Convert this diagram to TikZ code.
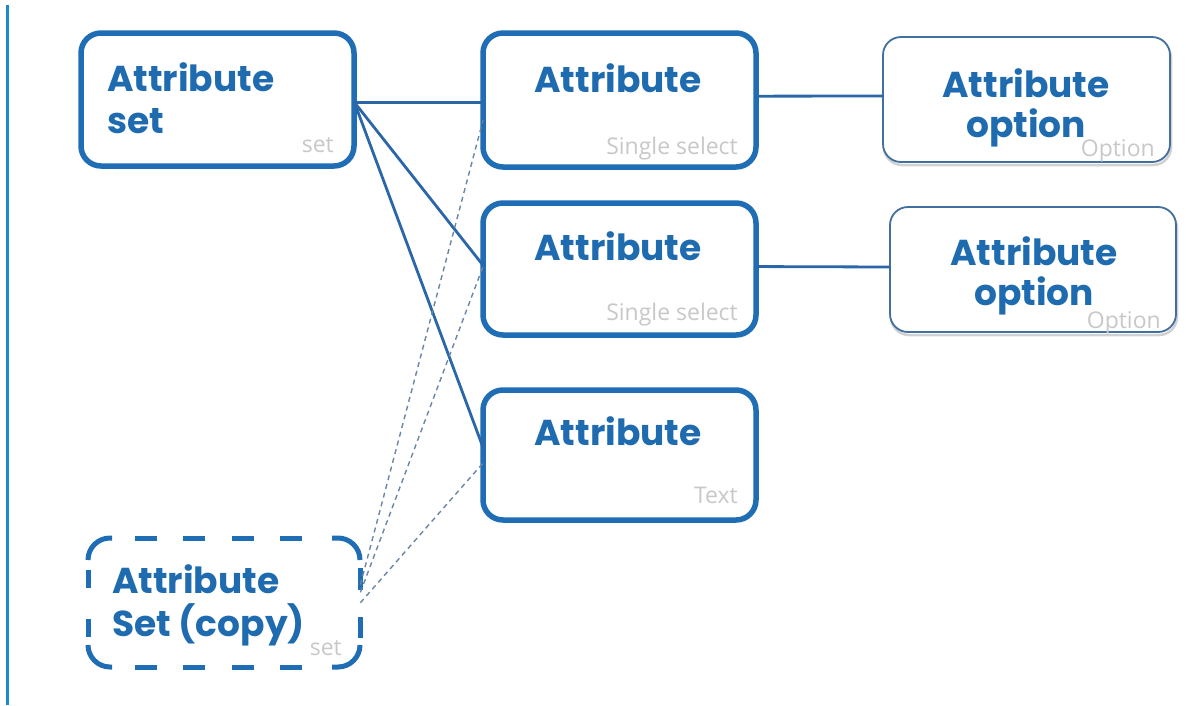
\documentclass[tikz,border=0pt]{standalone}
\usepackage{fontspec}
\usetikzlibrary{calc}
\newfontfamily\headfont{Poppins}[UprightFont=* SemiBold, BoldFont=* Bold]
\newfontfamily\tagfont{Open Sans}
\definecolor{boxblue}{HTML}{1F6DB4}
\definecolor{txtblue}{HTML}{1E6BB0}
\definecolor{optblue}{HTML}{41709F}
\definecolor{linkblue}{HTML}{2A66A8}
\definecolor{dashblue}{HTML}{6A86A6}
\definecolor{sideblue}{HTML}{1A8CC4}
\definecolor{taggray}{HTML}{C8C8C8}
\tikzset{
  mainbox/.style={draw=boxblue, line width=5.5pt, rounded corners=20pt, fill=white},
  copydash/.style={draw=boxblue, line width=5pt},
  optbox/.style={draw=optblue, line width=1.8pt, rounded corners=18pt, fill=white},
  optshadow/.style={draw=black!18, line width=2.5pt, rounded corners=18pt},
  head/.style={inner sep=0pt, font=\headfont\bfseries\fontsize{36}{42}\selectfont, text=txtblue},
  tag/.style={inner sep=0pt, font=\tagfont\fontsize{23}{26}\selectfont, text=taggray, anchor=base east},
  link/.style={draw=linkblue, line width=2.8pt},
  ghost/.style={draw=dashblue, line width=1.4pt, dash pattern=on 5pt off 4pt},
}
\begin{document}
\begin{tikzpicture}[x=1pt,y=-1pt]
\useasboundingbox (0,0) rectangle (1186,705);
% left side rule
\draw[sideblue, line width=3pt] (7,5) coordinate (sidetop) -- (7,705) coordinate (sidebot);

% boxes
\draw[mainbox] (81,33) rectangle (354,166);
\node[inner sep=0, minimum width=273pt, minimum height=133pt, anchor=north west] (asetbox) at (81,33) {};
\draw[mainbox] (483,33) rectangle (756,167);
\node[inner sep=0, minimum width=273pt, minimum height=134pt, anchor=north west] (attrA) at (483,33) {};
\draw[mainbox] (483,203) rectangle (756,335);
\node[inner sep=0, minimum width=273pt, minimum height=132pt, anchor=north west] (attrB) at (483,203) {};
\draw[mainbox] (483,390) rectangle (756,520);
\node[inner sep=0, minimum width=273pt, minimum height=130pt, anchor=north west] (attrC) at (483,390) {};

\draw[optshadow] (884,40) rectangle (1171,165);
\draw[optbox] (883,37) rectangle (1170,162);
\node[inner sep=0, minimum width=287pt, minimum height=125pt, anchor=north west] (optA) at (883,37) {};
\draw[optshadow] (891,210) rectangle (1177,335);
\draw[optbox] (890,207) rectangle (1176,332);
\node[inner sep=0, minimum width=286pt, minimum height=125pt, anchor=north west] (optB) at (890,207) {};

% dashed copy box: corner arcs and side dashes
\node[inner sep=0, minimum width=272pt, minimum height=129pt, anchor=north west] (copyset) at (88,538) {};
\draw[copydash] (88,560) arc[start angle=180, end angle=270, radius=22] -- (112,538);
\draw[copydash] (332,538) -- (338,538) arc[start angle=270, end angle=360, radius=22];
\draw[copydash] (360,645) arc[start angle=0, end angle=90, radius=22] -- (332,667);
\draw[copydash] (112,667) -- (110,667) arc[start angle=90, end angle=180, radius=22];
\foreach \a/\b in {135/157, 183/205, 232/254, 280/302} {
  \draw[copydash] (\a,538) -- (\b,538);
  \draw[copydash] (\a,667) -- (\b,667);
}
\draw[copydash] (88,570) -- (88,588);
\draw[copydash] (88,619) -- (88,637);
\draw[copydash] (360,568) -- (360,590);
\draw[copydash] (360,617) -- (360,638);

% connectors
\coordinate (asetout) at ($(asetbox.north east)!0.52!(asetbox.south east)$);
\draw[link] (asetout) -- (attrA.west |- asetout);
\draw[link] (asetout) -- ($(attrB.north west)!0.47!(attrB.south west)$);
\draw[link] (asetout) -- ($(attrC.north west)!0.44!(attrC.south west)$);
\draw[link] ($(attrA.north east)!0.47!(attrA.south east)$) -- (optA.west |- 0,96);
\draw[link] ($(attrB.north east)!0.48!(attrB.south east)$) -- (optB.west |- 0,267);

\coordinate (cpA) at ($(copyset.north east)!0.36!(copyset.south east)$);
\coordinate (cpB) at ($(copyset.north east)!0.42!(copyset.south east)$);
\coordinate (cpC) at ($(copyset.north east)!0.5!(copyset.south east)$);
\draw[ghost] (cpA) -- ($(attrA.north west)!0.65!(attrA.south west)$);
\draw[ghost] (cpB) -- ($(attrB.north west)!0.48!(attrB.south west)$);
\draw[ghost] (cpC) -- ($(attrC.north west)!0.56!(attrC.south west)$);

% headings
\node[head, anchor=base west] (t1) at (107,91) {Attribute};
\node[head, anchor=base west] (t2) at (107,133) {set};
\node[head, anchor=base] (t3) at (618,92) {Attribute};
\node[head, anchor=base] (t4) at (618,260) {Attribute};
\node[head, anchor=base] (t5) at (618,445) {Attribute};
\node[head, anchor=base] (t6) at (1026,97) {Attribute};
\node[head, anchor=base] (t7) at (1026,137) {option};
\node[head, anchor=base] (t8) at (1034,265) {Attribute};
\node[head, anchor=base] (t9) at (1034,305) {option};
\node[head, anchor=base west] (t10) at (112,593) {Attribute};
\node[head, anchor=base west] (t11) at (112,636) {Set (copy)};

% tags
\node[tag] (g1) at (334,152) {set};
\node[tag] (g2) at (738,154) {Single select};
\node[tag] (g3) at (738,320) {Single select};
\node[tag] (g4) at (738,503) {Text};
\node[tag] (g5) at (1155,156) {Option};
\node[tag] (g6) at (1161,328) {Option};
\node[tag] (g7) at (342,655) {set};
\end{tikzpicture}
\end{document}
